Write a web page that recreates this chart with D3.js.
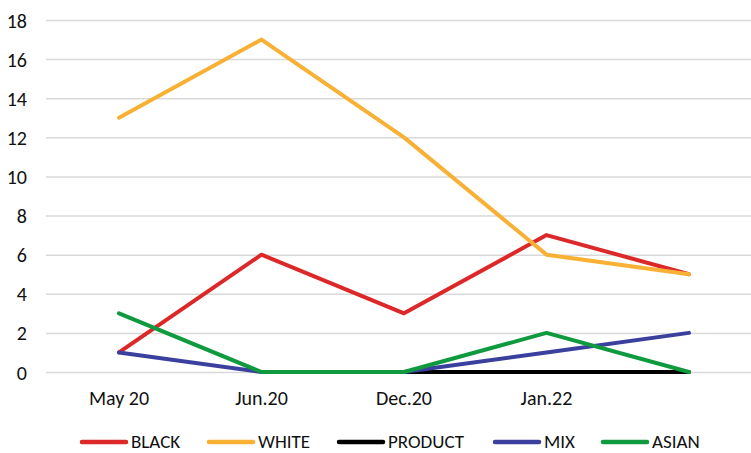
<!DOCTYPE html>
<html><head><meta charset="utf-8">
<script src="https://cdn.jsdelivr.net/npm/d3@7"></script>
<style>body{margin:0;background:#fff}svg{display:block}text{font-family:Carlito,Lato,"Liberation Sans",sans-serif;fill:#111}</style>
</head><body><svg id="c" width="751" height="453"></svg>
<script>
const categories = ["May 20","Jun.20","Dec.20","Jan.22",""];
const seriesNames = ["BLACK","WHITE","PRODUCT","MIX","ASIAN"];
const seriesColors = ["#dc2828","#f8b135","#000000","#3b3f9e","#0f9a3f"];
const black = [1,6,3,7,5];
const white = [13,17,12,6,5];
const product = [null,0,0,0,0];
const mix = [1,0,0,1,2];
const asian = [3,0,0,2,0];
const yTicks = [0,2,4,6,8,10,12,14,16,18];
const allSeries = [black,white,product,mix,asian];

const svg = d3.select("#c");
const x = d3.scalePoint().domain(categories.map((c,i)=>i)).range([119,689]);
const y = d3.scaleLinear().domain([0,18]).range([372,20]);

const grid = svg.append("g").attr("transform","translate(46,0)")
  .call(d3.axisLeft(y).tickValues(yTicks).tickSize(-705).tickFormat(""));
grid.select(".domain").remove();
grid.selectAll("line").attr("stroke","#d9d9d9").attr("stroke-width",1.5);

svg.append("g").selectAll("text").data(yTicks).join("text")
  .attr("x",27).attr("y",d=>y(d)).attr("dy","0.38em").attr("text-anchor","end")
  .attr("font-size",20).text(d=>d);

svg.append("g").selectAll("text").data(categories).join("text")
  .attr("x",(d,i)=>x(i)).attr("y",405).attr("text-anchor","middle")
  .attr("font-size",20).text(d=>d);

const line = d3.line().defined(d=>d!==null).x((d,i)=>x(i)).y(d=>y(d));
allSeries.forEach((s,k)=>{
  svg.append("path").attr("d",line(s)).attr("fill","none")
    .attr("stroke",seriesColors[k]).attr("stroke-width",4)
    .attr("stroke-linejoin","round").attr("stroke-linecap","round");
});

const legX = [80,207,337,493,601];
const lg = svg.append("g");
seriesNames.forEach((n,k)=>{
  lg.append("line").attr("x1",legX[k]+2).attr("x2",legX[k]+46).attr("y1",442).attr("y2",442)
    .attr("stroke",seriesColors[k]).attr("stroke-width",4.5).attr("stroke-linecap","round");
  lg.append("text").attr("x",legX[k]+51).attr("y",448)
    .attr("font-size",19).text(n);
});
</script></body></html>
